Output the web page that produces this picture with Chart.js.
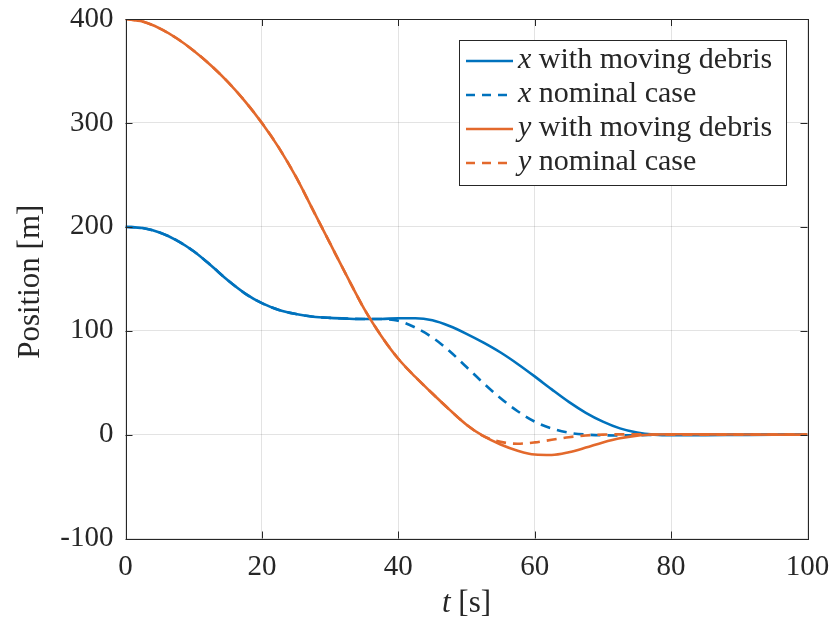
<!DOCTYPE html>
<html>
<head>
<meta charset="utf-8">
<script src="https://cdn.jsdelivr.net/npm/chart.js@4.4.0/dist/chart.umd.min.js"></script>
<style>
  html, body { margin: 0; padding: 0; background: #fff; }
  #wrap { width: 834px; height: 627px; }
</style>
</head>
<body>
<div id="wrap"><canvas id="posChart"></canvas></div>
<script>
// Sample times [s]
const timeS = [0, 2.5, 5, 7.5, 10, 12.5, 15, 17.5, 20, 22.5, 25, 27.5, 30, 32.5, 35, 37.5,
  40, 42.5, 45, 47.5, 50, 52.5, 55, 57.5, 60, 62.5, 65, 67.5, 70, 72.5, 75, 77.5, 80, 85, 90, 95, 100];

// x position [m]
const xDebris = [200, 198.8, 194.5, 187, 176.5, 163, 148.5, 136, 126.5, 120, 116, 113.5, 112.3, 111.6, 111.2, 111.3,
  112, 112, 110, 104.5, 97, 88.5, 79, 68, 56, 43.5, 31.5, 21, 12.5, 6, 2, 0, -0.6, -0.5, -0.3, -0.1, 0];
const xNominal = [200, 198.8, 194.5, 187, 176.5, 163, 148.5, 136, 126.5, 120, 116, 113.5, 112.3, 111.6, 111.2, 111.2,
  109.5, 103, 93.5, 80.5, 65, 49.5, 35, 22.5, 12.5, 5.8, 1.8, 0, -0.7, -0.8, -0.6, -0.3, 0, 0, 0, 0, 0];

// y position [m]
const yDebris = [400, 397.5, 391, 381.5, 369.5, 355.5, 339.5, 321, 300, 276, 248, 216, 184, 152, 121, 95,
  73, 55.5, 39.5, 24, 9.5, -1.5, -9.5, -15.5, -19.2, -19.6, -17, -12.5, -7.5, -3.5, -1, 0.1, 0.4, 0.2, 0.1, 0, 0];
const yNominal = [400, 397.5, 391, 381.5, 369.5, 355.5, 339.5, 321, 300, 276, 248, 216, 184, 152, 121, 95,
  73, 55.5, 39.5, 24, 9.5, -1.5, -7, -8.8, -7.5, -5, -2.5, -0.8, 0, 0.2, 0.2, 0.1, 0, 0, 0, 0, 0];

const tMin = 0, tMax = 100, tStep = 20;
const posMin = -100, posMax = 400, posStep = 100;

const BLUE = '#0072BD';
const ORANGE = '#E3692C';
const AXIS = '#262626';
const SERIF = '"Liberation Serif", "DejaVu Serif", serif';

// legend entries: italic symbol + rest of the label
const legendSymbols = ['x', 'x', 'y', 'y'];
const legendTexts = ['with moving debris', 'nominal case', 'with moving debris', 'nominal case'];

function toPoints(values) {
  return timeS.map((t, i) => ({ x: t, y: values[i] }));
}

function series(label, values, color, dashed, order) {
  return {
    label: label,
    data: toPoints(values),
    borderColor: color,
    backgroundColor: color,
    borderWidth: 2.6,
    borderDash: dashed ? [10, 7] : [],
    pointRadius: 0,
    cubicInterpolationMode: 'monotone',
    fill: false,
    order: order
  };
}

// Box, inward ticks, axis titles and the legend
const matlabAxes = {
  id: 'matlabAxes',
  afterDatasetsDraw(chart) {
    const ctx = chart.ctx;
    const a = chart.chartArea;
    const sx = chart.scales.x, sy = chart.scales.y;
    ctx.save();

    // inward ticks on all four sides
    ctx.strokeStyle = AXIS;
    ctx.lineWidth = 1;
    ctx.beginPath();
    sx.ticks.forEach(tk => {
      const px = Math.round(sx.getPixelForValue(tk.value)) + 0.5;
      ctx.moveTo(px, a.bottom); ctx.lineTo(px, a.bottom - 7);
      ctx.moveTo(px, a.top); ctx.lineTo(px, a.top + 7);
    });
    sy.ticks.forEach(tk => {
      const py = Math.round(sy.getPixelForValue(tk.value)) + 0.5;
      ctx.moveTo(a.left, py); ctx.lineTo(a.left + 7, py);
      ctx.moveTo(a.right, py); ctx.lineTo(a.right - 7, py);
    });
    ctx.stroke();

    // axes box
    ctx.strokeRect(Math.round(a.left) + 0.5, Math.round(a.top) + 0.5,
      Math.round(a.right - a.left), Math.round(a.bottom - a.top));

    // x axis title: italic t [s]
    ctx.fillStyle = AXIS;
    ctx.textBaseline = 'alphabetic';
    const cx = (a.left + a.right) / 2;
    ctx.font = 'italic 31px ' + SERIF;
    const tW = ctx.measureText('t').width;
    ctx.font = '31px ' + SERIF;
    const restW = ctx.measureText(' [s]').width;
    let x0 = cx - (tW + restW) / 2;
    ctx.font = 'italic 31px ' + SERIF;
    ctx.fillText('t', x0, 612);
    ctx.font = '31px ' + SERIF;
    ctx.fillText(' [s]', x0 + tW, 612);

    // y axis title
    ctx.save();
    ctx.translate(39, (a.top + a.bottom) / 2 + 3);
    ctx.rotate(-Math.PI / 2);
    ctx.textAlign = 'center';
    ctx.font = '31px ' + SERIF;
    ctx.fillText('Position [m]', 0, 0);
    ctx.restore();

    // legend
    const bx = 459.5, by = 40.5, bw = 327, bh = 145;
    ctx.fillStyle = '#fff';
    ctx.fillRect(bx, by, bw, bh);
    ctx.strokeStyle = AXIS;
    ctx.lineWidth = 1;
    ctx.strokeRect(bx, by, bw, bh);
    const rowY = [61, 95, 129, 163];
    chart.data.datasets.forEach((ds, i) => {
      const ly = rowY[i];
      ctx.strokeStyle = ds.borderColor;
      ctx.lineWidth = ds.borderWidth;
      ctx.setLineDash(ds.borderDash.length ? [9, 7] : []);
      ctx.beginPath();
      ctx.moveTo(466, ly);
      ctx.lineTo(513, ly);
      ctx.stroke();
      ctx.setLineDash([]);
      ctx.fillStyle = AXIS;
      ctx.textBaseline = 'middle';
      ctx.font = 'italic 30px ' + SERIF;
      ctx.fillText(legendSymbols[i], 518, ly - 1);
      const sw = ctx.measureText(legendSymbols[i]).width;
      ctx.font = '30px ' + SERIF;
      ctx.fillText(' ' + legendTexts[i], 518 + sw, ly - 1);
    });
    ctx.restore();
  }
};

new Chart(document.getElementById('posChart'), {
  type: 'line',
  data: {
    datasets: [
      series('x with moving debris', xDebris, BLUE, false, 4),
      series('x nominal case', xNominal, BLUE, true, 3),
      series('y with moving debris', yDebris, ORANGE, false, 2),
      series('y nominal case', yNominal, ORANGE, true, 1)
    ]
  },
  options: {
    responsive: true,
    maintainAspectRatio: false,
    animation: false,
    layout: { padding: { left: 0, top: 19, right: 26.5, bottom: 0 } },
    scales: {
      x: {
        type: 'linear',
        min: tMin,
        max: tMax,
        ticks: { stepSize: tStep, color: AXIS, padding: 11, maxRotation: 0,
          font: { family: SERIF, size: 29 } },
        grid: { color: 'rgba(38,38,38,0.13)', drawTicks: false },
        border: { display: false },
        afterFit(scale) {
          scale.height = 88.5;
          scale.paddingLeft = 0;
          scale.paddingRight = 0;
        }
      },
      y: {
        type: 'linear',
        min: posMin,
        max: posMax,
        ticks: { stepSize: posStep, color: AXIS, padding: 12,
          font: { family: SERIF, size: 29 } },
        grid: { color: 'rgba(38,38,38,0.13)', drawTicks: false },
        border: { display: false },
        afterFit(scale) {
          scale.width = 125.5;
          scale.paddingTop = 0;
          scale.paddingBottom = 0;
        }
      }
    },
    plugins: {
      legend: { display: false },
      tooltip: { enabled: false }
    }
  },
  plugins: [matlabAxes]
});
</script>
</body>
</html>
